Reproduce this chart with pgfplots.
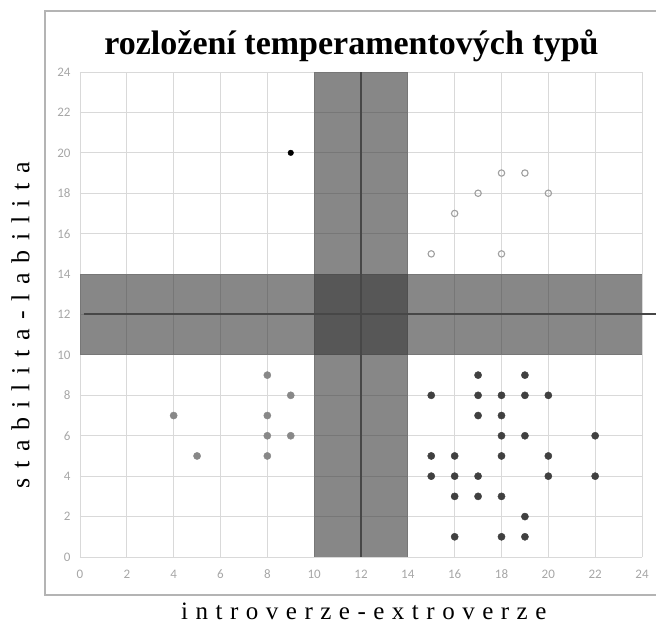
\documentclass[border=0pt]{standalone}
\usepackage{fontspec}
\setmainfont{Liberation Serif}
\newfontfamily\tickfont{Carlito}
\usepackage{pgfplots}
\pgfplotsset{compat=1.18}
\definecolor{gridgray}{HTML}{D9D9D9}
\definecolor{tickgray}{HTML}{A6A6A6}
\definecolor{framegray}{HTML}{B4B4B4}
\definecolor{bandgray}{HTML}{373737}
\definecolor{linegray}{HTML}{474747}
\definecolor{midpt}{HTML}{888888}
\definecolor{darkpt}{HTML}{404040}
\definecolor{openpt}{HTML}{A0A0A0}

\begin{document}
\begin{tikzpicture}
  \useasboundingbox (0pt,0pt) rectangle (656pt,623pt);
  % outer chart frame
  \draw[framegray, line width=1.5pt] (45pt,28pt) rectangle (662pt,612pt);
  \node[anchor=base, font=\bfseries\fontsize{34}{34}\selectfont] at (351.5pt,568pt)
    {rozložení temperamentových typů};
  \begin{axis}[
    at={(80pt,66pt)}, anchor=south west,
    scale only axis, width=562pt, height=485pt,
    xmin=0, xmax=24, ymin=0, ymax=24,
    xtick={0,2,...,24}, ytick={0,2,...,24},
    grid=major, grid style={gridgray, line width=0.9pt},
    axis line style={draw=none}, major tick length=0pt,
    tick label style={font=\tickfont\fontsize{13}{13}\selectfont, text=tickgray},
    /pgf/number format/assume math mode=true,
    xticklabel style={anchor=base, yshift=-22pt},
    yticklabel style={xshift=-6pt},
    clip=false,
    xlabel={\fontsize{25}{25}\selectfont\spaceskip=7.5pt\relax i n t r o v e r z e - e x t r o v e r z e},
    ylabel={\fontsize{26}{26}\selectfont\spaceskip=9.6pt\relax s t a b i l i t a - l a b i l i t a},
    every axis x label/.style={at={(axis description cs:0.505,-0.128)}, anchor=base},
    every axis y label/.style={at={(axis description cs:-0.09,0.478)}, rotate=90, anchor=base},
  ]
    % shaded bands
    \addplot[draw=none, fill=bandgray, fill opacity=0.6]
      coordinates {(10,0)(14,0)(14,24)(10,24)} -- cycle;
    \addplot[draw=none, fill=bandgray, fill opacity=0.6]
      coordinates {(0,10)(24,10)(24,14)(0,14)} -- cycle;
    % centre lines
    \addplot[linegray, line width=2pt] coordinates {(0.15,12)(24.6,12)};
    \addplot[linegray, line width=2pt] coordinates {(12,0)(12,24)};
    % points
    \addplot[only marks, mark=*, mark size=3.6pt, color=darkpt] coordinates {
      (17,9)(19,9)
      (15,8)(17,8)(18,8)(19,8)(20,8)
      (17,7)(18,7)
      (18,6)(19,6)(22,6)
      (15,5)(16,5)(18,5)(20,5)
      (15,4)(16,4)(17,4)(20,4)(22,4)
      (16,3)(17,3)(18,3)
      (19,2)
      (16,1)(18,1)(19,1)
    };
    \addplot[only marks, mark=*, mark size=3.6pt, color=midpt] coordinates {
      (4,7)(5,5)(8,9)(8,7)(8,6)(8,5)(9,8)(9,6)
    };
    \addplot[only marks, mark=o, mark size=3.2pt, line width=1.1pt, color=openpt,
      mark options={fill=white}] coordinates {
      (15,15)(16,17)(17,18)(18,19)(19,19)(20,18)(18,15)
    };
    \addplot[only marks, mark=*, mark size=2.8pt, color=black] coordinates {(9,20)};
  \end{axis}
\end{tikzpicture}
\end{document}
